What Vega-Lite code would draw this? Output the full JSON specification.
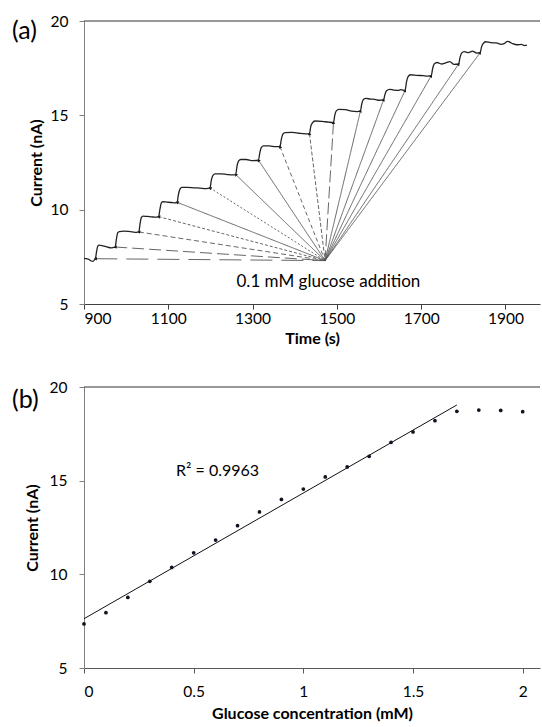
{
  "$schema": "https://vega.github.io/schema/vega-lite/v6.json",
  "background": "white",
  "padding": {"left": 12, "top": 14, "right": 0, "bottom": 0},
  "spacing": 33,
  "config": {
    "font": "Lato",
    "view": {"stroke": null},
    "axis": {"grid": false, "labelColor": "#000", "titleColor": "#000", "labelFont": "Lato", "titleFont": "Lato", "labelFontSize": 15.5, "titleFontSize": 16, "titleFontWeight": "bold", "tickSize": 5},
    "title": {"font": "Lato", "fontSize": 25, "fontWeight": "normal", "color": "#000", "anchor": "start", "frame": "bounds"}
  },
  "vconcat": [
    {
      "width": 456,
      "height": 283,
      "title": {"text": "(a)", "dx": -16, "dy": 34},
      "layer": [
        {
          "data": {"values": [{"v": 20}]},
          "mark": {"type": "rule", "color": "#333", "strokeWidth": 1},
          "encoding": {"y": {"field": "v", "type": "quantitative", "scale": {"domain": [5, 20], "nice": false}}}
        },
        {
          "data": {"values": [
            {"n": 1, "t": 927, "c": 7.40}, {"n": 2, "t": 974, "c": 8.02}, {"n": 3, "t": 1030, "c": 8.82},
            {"n": 4, "t": 1077, "c": 9.63}, {"n": 5, "t": 1121, "c": 10.39}, {"n": 6, "t": 1199, "c": 11.15},
            {"n": 7, "t": 1260, "c": 11.86}, {"n": 8, "t": 1314, "c": 12.62}, {"n": 9, "t": 1365, "c": 13.34},
            {"n": 10, "t": 1435, "c": 14.03}, {"n": 11, "t": 1492, "c": 14.62}, {"n": 12, "t": 1556, "c": 15.24},
            {"n": 13, "t": 1611, "c": 15.83}, {"n": 14, "t": 1662, "c": 16.32}, {"n": 15, "t": 1724, "c": 17.10},
            {"n": 16, "t": 1789, "c": 17.72}, {"n": 17, "t": 1840, "c": 18.32}
          ]},
          "layer": [
            {
              "mark": {"type": "rule", "color": "#555", "strokeWidth": 0.9},
              "encoding": {
                "x": {"field": "t", "type": "quantitative", "scale": {"domain": [900, 1982], "nice": false, "zero": false}},
                "y": {"field": "c", "type": "quantitative", "scale": {"domain": [5, 20], "nice": false}},
                "x2": {"datum": 1472},
                "y2": {"datum": 7.3},
                "strokeDash": {"field": "n", "type": "ordinal", "legend": null,
                  "scale": {"domain": [1,2,3,4,5,6,7,8,9,10,11,12,13,14,15,16,17],
                    "range": [[22,9],[12,5],[5,3],[3,2],[1,0],[2,2],[1,0],[1,0],[4,3],[4,2],[12,4],[1,0],[1,0],[1,0],[1,0],[1,0],[1,0]]}}
              }
            },
            {
              "transform": [{"calculate": "atan2((datum.t-1472)*0.4214, (datum.c-7.3)*18.87)*180/PI", "as": "ang"}],
              "mark": {"type": "point", "shape": "triangle-up", "filled": true, "color": "#111", "size": 12, "opacity": 1},
              "encoding": {
                "x": {"field": "t", "type": "quantitative", "scale": {"domain": [900, 1982], "nice": false, "zero": false}},
                "y": {"field": "c", "type": "quantitative", "scale": {"domain": [5, 20], "nice": false}},
                "angle": {"field": "ang", "type": "quantitative", "scale": null}
              }
            }
          ]
        },
        {
          "data": {"values": [
            {"t":900,"c":7.42},{"t":906,"c":7.40},{"t":912,"c":7.36},{"t":917,"c":7.28},{"t":921,"c":7.26},{"t":925,"c":7.34},{"t":927,"c":7.40},
            {"t":930,"c":7.8},{"t":933,"c":8.08},{"t":936,"c":8.12},{"t":945,"c":8.08},{"t":955,"c":8.02},{"t":965,"c":7.98},{"t":972,"c":8.0},{"t":974,"c":8.02},
            {"t":977,"c":8.45},{"t":980,"c":8.78},{"t":984,"c":8.84},{"t":995,"c":8.86},{"t":1005,"c":8.85},{"t":1015,"c":8.82},{"t":1025,"c":8.8},{"t":1030,"c":8.82},
            {"t":1033,"c":9.25},{"t":1036,"c":9.58},{"t":1040,"c":9.66},{"t":1050,"c":9.64},{"t":1060,"c":9.62},{"t":1070,"c":9.6},{"t":1077,"c":9.63},
            {"t":1080,"c":10.0},{"t":1083,"c":10.33},{"t":1087,"c":10.42},{"t":1097,"c":10.40},{"t":1108,"c":10.38},{"t":1116,"c":10.36},{"t":1121,"c":10.39},
            {"t":1124,"c":10.8},{"t":1128,"c":11.1},{"t":1132,"c":11.18},{"t":1145,"c":11.18},{"t":1160,"c":11.16},{"t":1175,"c":11.14},{"t":1190,"c":11.12},{"t":1199,"c":11.15},
            {"t":1202,"c":11.55},{"t":1206,"c":11.82},{"t":1211,"c":11.9},{"t":1225,"c":11.9},{"t":1240,"c":11.86},{"t":1252,"c":11.84},{"t":1260,"c":11.86},
            {"t":1263,"c":12.3},{"t":1267,"c":12.58},{"t":1272,"c":12.66},{"t":1285,"c":12.66},{"t":1300,"c":12.6},{"t":1314,"c":12.62},
            {"t":1317,"c":13.0},{"t":1321,"c":13.3},{"t":1326,"c":13.38},{"t":1340,"c":13.38},{"t":1355,"c":13.34},{"t":1365,"c":13.34},
            {"t":1368,"c":13.7},{"t":1372,"c":14.0},{"t":1377,"c":14.08},{"t":1395,"c":14.1},{"t":1410,"c":14.05},{"t":1425,"c":14.02},{"t":1435,"c":14.03},
            {"t":1438,"c":14.4},{"t":1442,"c":14.6},{"t":1448,"c":14.7},{"t":1465,"c":14.68},{"t":1480,"c":14.64},{"t":1492,"c":14.62},
            {"t":1495,"c":15.0},{"t":1499,"c":15.25},{"t":1505,"c":15.32},{"t":1520,"c":15.3},{"t":1535,"c":15.22},{"t":1548,"c":15.2},{"t":1556,"c":15.24},
            {"t":1559,"c":15.6},{"t":1563,"c":15.84},{"t":1569,"c":15.9},{"t":1580,"c":15.86},{"t":1590,"c":15.85},{"t":1600,"c":15.8},{"t":1611,"c":15.83},
            {"t":1614,"c":16.1},{"t":1618,"c":16.3},{"t":1625,"c":16.38},{"t":1635,"c":16.34},{"t":1645,"c":16.32},{"t":1652,"c":16.36},{"t":1662,"c":16.32},
            {"t":1665,"c":16.75},{"t":1669,"c":17.05},{"t":1675,"c":17.15},{"t":1690,"c":17.12},{"t":1705,"c":17.1},{"t":1715,"c":17.08},{"t":1724,"c":17.1},
            {"t":1727,"c":17.45},{"t":1731,"c":17.72},{"t":1738,"c":17.8},{"t":1748,"c":17.72},{"t":1758,"c":17.78},{"t":1768,"c":17.85},{"t":1778,"c":17.7},{"t":1789,"c":17.72},
            {"t":1792,"c":18.05},{"t":1796,"c":18.3},{"t":1802,"c":18.38},{"t":1812,"c":18.32},{"t":1822,"c":18.4},{"t":1832,"c":18.3},{"t":1840,"c":18.32},
            {"t":1843,"c":18.6},{"t":1847,"c":18.8},{"t":1853,"c":18.9},{"t":1865,"c":18.85},{"t":1878,"c":18.84},{"t":1890,"c":18.76},{"t":1897,"c":18.8},{"t":1905,"c":18.92},{"t":1915,"c":18.82},{"t":1928,"c":18.74},{"t":1938,"c":18.76},{"t":1945,"c":18.7},{"t":1951,"c":18.72}
          ]},
          "mark": {"type": "line", "color": "#222", "strokeWidth": 1.3, "interpolate": "monotone"},
          "encoding": {
            "x": {"field": "t", "type": "quantitative", "scale": {"domain": [900, 1982], "nice": false, "zero": false},
              "axis": {"values": [900,1100,1300,1500,1700,1900], "format": "d", "title": "Time (s)", "domainColor": "#404040", "tickColor": "#404040", "labelPadding": 2, "titlePadding": 4}},
            "y": {"field": "c", "type": "quantitative", "scale": {"domain": [5, 20], "nice": false},
              "axis": {"values": [5,10,15,20], "title": "Current (nA)", "domainColor": "#808080", "tickColor": "#808080", "labelPadding": 11, "titlePadding": 6}}
          }
        },
        {
          "data": {"values": [{"t": 1480, "c": 6.17, "label": "0.1 mM glucose addition"}]},
          "mark": {"type": "text", "fontSize": 17, "color": "#000", "align": "center", "baseline": "middle"},
          "encoding": {
            "x": {"field": "t", "type": "quantitative", "scale": {"domain": [900, 1982], "nice": false, "zero": false}},
            "y": {"field": "c", "type": "quantitative", "scale": {"domain": [5, 20], "nice": false}},
            "text": {"field": "label"}
          }
        }
      ]
    },
    {
      "width": 456,
      "height": 281,
      "title": {"text": "(b)", "dx": -12, "dy": 37},
      "layer": [
        {
          "data": {"values": [{"v": 20}]},
          "mark": {"type": "rule", "color": "#333", "strokeWidth": 1},
          "encoding": {"y": {"field": "v", "type": "quantitative", "scale": {"domain": [5, 20], "nice": false}}}
        },
        {
          "data": {"values": [{"x": 0, "y": 7.63}, {"x": 1.7, "y": 19.04}]},
          "mark": {"type": "line", "color": "#111", "strokeWidth": 1},
          "encoding": {
            "x": {"field": "x", "type": "quantitative", "scale": {"domain": [0, 2.079], "nice": false}},
            "y": {"field": "y", "type": "quantitative", "scale": {"domain": [5, 20], "nice": false}}
          }
        },
        {
          "data": {"values": [
            {"x":0,"y":7.35},{"x":0.1,"y":7.95},{"x":0.2,"y":8.77},{"x":0.3,"y":9.63},{"x":0.4,"y":10.37},
            {"x":0.5,"y":11.15},{"x":0.6,"y":11.83},{"x":0.7,"y":12.6},{"x":0.8,"y":13.33},{"x":0.9,"y":14.0},
            {"x":1.0,"y":14.55},{"x":1.1,"y":15.2},{"x":1.2,"y":15.73},{"x":1.3,"y":16.3},{"x":1.4,"y":17.05},
            {"x":1.5,"y":17.6},{"x":1.6,"y":18.2},{"x":1.7,"y":18.7},{"x":1.8,"y":18.77},{"x":1.9,"y":18.75},{"x":2.0,"y":18.68}
          ]},
          "mark": {"type": "circle", "color": "#111122", "size": 14, "opacity": 1},
          "encoding": {
            "x": {"field": "x", "type": "quantitative", "scale": {"domain": [0, 2.079], "nice": false},
              "axis": {"values": [0,0.5,1,1.5,2], "format": "~g", "title": "Glucose concentration (mM)", "domainColor": "#595959", "tickColor": "#595959", "labelPadding": 11, "titlePadding": 6}},
            "y": {"field": "y", "type": "quantitative", "scale": {"domain": [5, 20], "nice": false},
              "axis": {"values": [5,10,15,20], "title": "Current (nA)", "domainColor": "#808080", "tickColor": "#808080", "labelPadding": 12, "titlePadding": 9}}
          }
        },
        {
          "data": {"values": [{"x": 0.609, "y": 15.5, "label": "R² = 0.9963"}]},
          "mark": {"type": "text", "fontSize": 16, "color": "#000", "align": "center", "baseline": "middle"},
          "encoding": {
            "x": {"field": "x", "type": "quantitative", "scale": {"domain": [0, 2.079], "nice": false}},
            "y": {"field": "y", "type": "quantitative", "scale": {"domain": [5, 20], "nice": false}},
            "text": {"field": "label"}
          }
        }
      ]
    }
  ]
}
